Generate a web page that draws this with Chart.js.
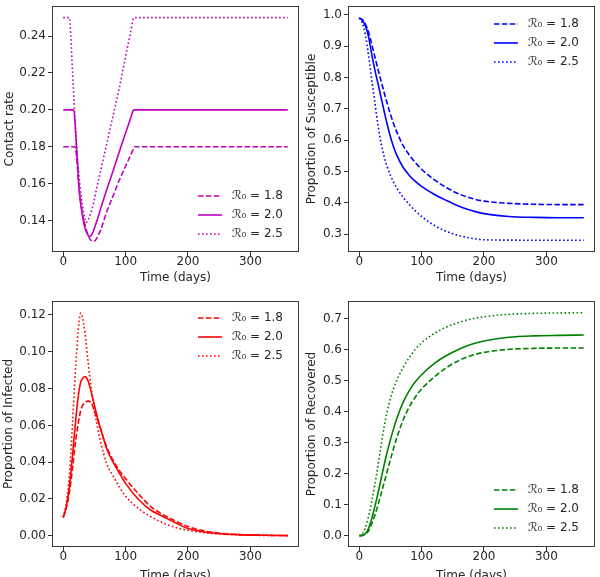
<!DOCTYPE html>
<html lang="en">
<head>
  <meta charset="UTF-8">
  <title>Contact rate and SIR proportions</title>
  <style>
    html, body {
      margin: 0;
      padding: 0;
      background: #fff;
      overflow: hidden;
    }
    body {
      width: 600px;
      height: 577px;
      position: relative;
    }
    canvas {
      position: absolute;
    }
  </style>
</head>
<body>
  <canvas id="contactChart" width="300" height="300" style="left:0;top:0"></canvas>
  <canvas id="suscChart" width="300" height="300" style="left:300px;top:0"></canvas>
  <canvas id="infChart" width="300" height="300" style="left:0;top:290px"></canvas>
  <canvas id="recChart" width="300" height="300" style="left:300px;top:290px"></canvas>

  <script src="https://cdn.jsdelivr.net/npm/chart.js"></script>
  <script>
    // series names (R0 values)
    const seriesLabels = ['\u211B\u2080 = 1.8', '\u211B\u2080 = 2.0', '\u211B\u2080 = 2.5'];
    const dayTicks = [0, 100, 200, 300];

    // contact rate panel
    const contactDays = [0, 10, 12, 15, 17, 19, 21, 23, 25, 28, 31, 34, 37, 40, 43, 46, 49, 52, 56, 60, 70, 80, 90, 100, 108, 112, 114, 116, 200, 360];
    const contact18 = [0.18, 0.18, 0.18, 0.18, 0.18, 0.18, 0.176, 0.168, 0.159, 0.150, 0.1435, 0.139, 0.135, 0.132, 0.130, 0.129, 0.1288, 0.1295, 0.132, 0.135, 0.145, 0.1535, 0.162, 0.1695, 0.1755, 0.1785, 0.18, 0.18, 0.18, 0.18];
    const contact20 = [0.20, 0.20, 0.20, 0.20, 0.20, 0.193, 0.182, 0.171, 0.159, 0.149, 0.1425, 0.137, 0.134, 0.132, 0.1315, 0.1325, 0.135, 0.138, 0.142, 0.1465, 0.157, 0.167, 0.1775, 0.1875, 0.1955, 0.1995, 0.20, 0.20, 0.20, 0.20];
    const contact25 = [0.25, 0.25, 0.241, 0.220, 0.207, 0.193, 0.180, 0.172, 0.165, 0.155, 0.148, 0.142, 0.139, 0.1405, 0.143, 0.146, 0.150, 0.155, 0.161, 0.167, 0.182, 0.197, 0.212, 0.229, 0.242, 0.249, 0.25, 0.25, 0.25, 0.25];
    const contactTicks = [0.14, 0.16, 0.18, 0.20, 0.22, 0.24];

    // epidemic panels share one day grid
    const epiDays = [0, 5, 10, 15, 20, 25, 28, 30, 35, 40, 45, 50, 55, 60, 70, 80, 90, 100, 120, 140, 160, 180, 200, 240, 280, 320, 360];

    const susc18 = [0.99, 0.985, 0.97, 0.945, 0.907, 0.867, 0.843, 0.827, 0.789, 0.752, 0.716, 0.683, 0.653, 0.627, 0.584, 0.553, 0.528, 0.507, 0.474, 0.448, 0.428, 0.414, 0.405, 0.398, 0.395, 0.394, 0.394];
    const susc20 = [0.99, 0.983, 0.965, 0.93, 0.875, 0.825, 0.798, 0.782, 0.737, 0.692, 0.649, 0.611, 0.579, 0.553, 0.514, 0.488, 0.468, 0.452, 0.427, 0.407, 0.389, 0.375, 0.365, 0.356, 0.353, 0.352, 0.352];
    const susc25 = [0.99, 0.975, 0.935, 0.87, 0.795, 0.722, 0.677, 0.649, 0.591, 0.547, 0.5135, 0.4875, 0.466, 0.448, 0.4185, 0.3945, 0.374, 0.356, 0.328, 0.308, 0.295, 0.2865, 0.2815, 0.2805, 0.28, 0.28, 0.28];
    const suscTicks = [0.3, 0.4, 0.5, 0.6, 0.7, 0.8, 0.9, 1.0];

    const inf18 = [0.010, 0.015, 0.024, 0.037, 0.052, 0.063, 0.068, 0.070, 0.0725, 0.0732, 0.072, 0.068, 0.063, 0.058, 0.048, 0.041, 0.0355, 0.031, 0.023, 0.016, 0.0115, 0.008, 0.005, 0.0018, 0.0007, 0.0003, 0.0001];
    const inf20 = [0.010, 0.016, 0.027, 0.044, 0.063, 0.078, 0.0835, 0.085, 0.0865, 0.084, 0.078, 0.071, 0.064, 0.058, 0.047, 0.040, 0.034, 0.0285, 0.020, 0.014, 0.0105, 0.007, 0.004, 0.0015, 0.0006, 0.0003, 0.0001];
    const inf25 = [0.010, 0.018, 0.034, 0.062, 0.092, 0.115, 0.121, 0.120, 0.110, 0.094, 0.080, 0.068, 0.059, 0.051, 0.039, 0.0325, 0.0265, 0.0215, 0.015, 0.0105, 0.007, 0.0045, 0.003, 0.0012, 0.0005, 0.0002, 0.0001];
    const infTicks = [0.00, 0.02, 0.04, 0.06, 0.08, 0.10, 0.12];

    const rec18 = [0, 0.001, 0.005, 0.016, 0.038, 0.066, 0.085, 0.099, 0.135, 0.172, 0.209, 0.246, 0.282, 0.315, 0.372, 0.415, 0.448, 0.474, 0.512, 0.543, 0.566, 0.582, 0.592, 0.602, 0.605, 0.606, 0.606];
    const rec20 = [0, 0.001, 0.007, 0.024, 0.055, 0.094, 0.119, 0.137, 0.183, 0.229, 0.272, 0.31, 0.345, 0.377, 0.429, 0.468, 0.497, 0.52, 0.556, 0.582, 0.602, 0.618, 0.629, 0.641, 0.6455, 0.647, 0.648];
    const rec25 = [0, 0.006, 0.027, 0.063, 0.11, 0.165, 0.2, 0.226, 0.292, 0.352, 0.403, 0.443, 0.475, 0.501, 0.542, 0.575, 0.602, 0.623, 0.653, 0.674, 0.689, 0.70, 0.707, 0.715, 0.718, 0.7195, 0.72];
    const recTicks = [0.0, 0.1, 0.2, 0.3, 0.4, 0.5, 0.6, 0.7];

    Chart.defaults.font.family = "'DejaVu Sans', sans-serif";
    Chart.defaults.font.size = 12;
    Chart.defaults.color = '#262626';

    // dashed, solid, dotted
    const lineDashes = [[5.5, 2.4], [], [1.6, 2.4]];

    // little line pictures for the legend, so the dash shows
    function legendSample(color, dash) {
      const c = document.createElement('canvas');
      c.width = 24;
      c.height = 4;
      const g = c.getContext('2d');
      g.strokeStyle = color;
      g.lineWidth = 1.6;
      g.setLineDash(dash);
      g.beginPath();
      g.moveTo(0, 2);
      g.lineTo(24, 2);
      g.stroke();
      return c;
    }

    // box around the plot area, like matplotlib spines
    const framePlugin = {
      id: 'frame',
      afterDatasetsDraw(chart) {
        const a = chart.chartArea;
        const ctx = chart.ctx;
        ctx.save();
        ctx.strokeStyle = '#3a3a3a';
        ctx.lineWidth = 1;
        ctx.strokeRect(a.left + 0.5, a.top + 0.5, a.right - a.left - 1, a.bottom - a.top - 1);
        ctx.restore();
      }
    };

    // put the legend inside the plot where the reference has it
    const legendSpot = {
      id: 'legendSpot',
      afterLayout(chart, args, opts) {
        const lg = chart.legend;
        if (!lg) return;
        const pad = lg.options.labels.padding;
        lg.left = opts.x - pad;
        lg.top = opts.y - pad - 6;
        lg.right = chart.width;
        lg.bottom = chart.height;
      }
    };

    function makePanel(id, p) {
      const samples = lineDashes.map(d => legendSample(p.color, d));
      const datasets = p.series.map((vals, i) => ({
        label: seriesLabels[i],
        data: p.days.map((d, k) => ({ x: d, y: vals[k] })),
        borderColor: p.color,
        backgroundColor: p.color,
        borderWidth: 1.6,
        borderDash: lineDashes[i],
        pointRadius: 0,
        pointHoverRadius: 0,
        cubicInterpolationMode: 'monotone',
        fill: false
      }));

      return new Chart(document.getElementById(id), {
        type: 'line',
        data: { datasets },
        plugins: [framePlugin, legendSpot],
        options: {
          responsive: false,
          animation: false,
          devicePixelRatio: 1,
          layout: { padding: { left: 0, top: p.padTop, right: p.padRight, bottom: 0 } },
          plugins: {
            tooltip: { enabled: false },
            legend: {
              position: 'chartArea',
              align: 'start',
              labels: {
                usePointStyle: true,
                pointStyleWidth: 24,
                padding: 7,
                color: '#262626',
                font: { size: 12 },
                generateLabels(chart) {
                  return Chart.defaults.plugins.legend.labels.generateLabels(chart)
                    .map(item => Object.assign(item, {
                      text: ' ' + item.text,
                      pointStyle: samples[item.datasetIndex]
                    }));
                }
              }
            },
            legendSpot: p.legend
          },
          scales: {
            x: {
              type: 'linear',
              min: -18,
              max: 378,
              bounds: 'data',
              afterBuildTicks: s => { s.ticks = dayTicks.map(v => ({ value: v })); },
              afterFit: s => {
                s.height = p.xHeight;
                s.paddingLeft = 0;
                s.paddingRight = 0;
              },
              grid: { drawOnChartArea: false, drawTicks: true, tickLength: 4, color: '#333' },
              border: { display: false },
              ticks: {
                padding: 0,
                color: '#262626',
                font: { size: 12, lineHeight: 1 },
                maxRotation: 0,
                autoSkip: false,
                callback: v => String(v)
              },
              title: {
                display: true,
                text: 'Time (days)',
                color: '#262626',
                font: { size: 12 },
                padding: { top: 0, bottom: p.xTitlePad }
              }
            },
            y: {
              type: 'linear',
              min: p.yMin,
              max: p.yMax,
              bounds: 'data',
              afterBuildTicks: s => { s.ticks = p.yTicks.map(v => ({ value: v })); },
              afterFit: s => {
                s.width = p.yWidth;
                s.paddingTop = 0;
                s.paddingBottom = 0;
              },
              grid: { drawOnChartArea: false, drawTicks: true, tickLength: 4, color: '#333' },
              border: { display: false },
              ticks: { padding: 2, color: '#262626', autoSkip: false, callback: v => v.toFixed(p.decimals) },
              title: {
                display: true,
                text: p.yTitle,
                color: '#262626',
                font: { size: 12 },
                padding: { top: p.yTitlePad, bottom: 0 }
              }
            }
          }
        }
      });
    }

    makePanel('contactChart', {
      days: contactDays, series: [contact18, contact20, contact25], color: '#bf00bf',
      yMin: 0.123, yMax: 0.2563, yTicks: contactTicks, decimals: 2, yTitle: 'Contact rate',
      padTop: 6, padRight: 1, yWidth: 52, xHeight: 48, yTitlePad: 2.8, xTitlePad: 14.8,
      legend: { x: 198, y: 196 }
    });

    makePanel('suscChart', {
      days: epiDays, series: [susc18, susc20, susc25], color: '#0000ff',
      yMin: 0.2425, yMax: 1.0285, yTicks: suscTicks, decimals: 1, yTitle: 'Proportion of Susceptible',
      padTop: 6, padRight: 5, yWidth: 48, xHeight: 48, yTitlePad: 4.8, xTitlePad: 14.8,
      legend: { x: 194, y: 24 }
    });

    makePanel('infChart', {
      days: epiDays, series: [inf18, inf20, inf25], color: '#ff0000',
      yMin: -0.0061, yMax: 0.1276, yTicks: infTicks, decimals: 2, yTitle: 'Proportion of Infected',
      padTop: 11, padRight: 1, yWidth: 52, xHeight: 43, yTitlePad: 1.8, xTitlePad: 6.8,
      legend: { x: 198, y: 28 }
    });

    makePanel('recChart', {
      days: epiDays, series: [rec18, rec20, rec25], color: '#008000',
      yMin: -0.0365, yMax: 0.758, yTicks: recTicks, decimals: 1, yTitle: 'Proportion of Recovered',
      padTop: 11, padRight: 5, yWidth: 48, xHeight: 43, yTitlePad: 4.8, xTitlePad: 6.8,
      legend: { x: 194, y: 200 }
    });
  </script>
</body>
</html>
